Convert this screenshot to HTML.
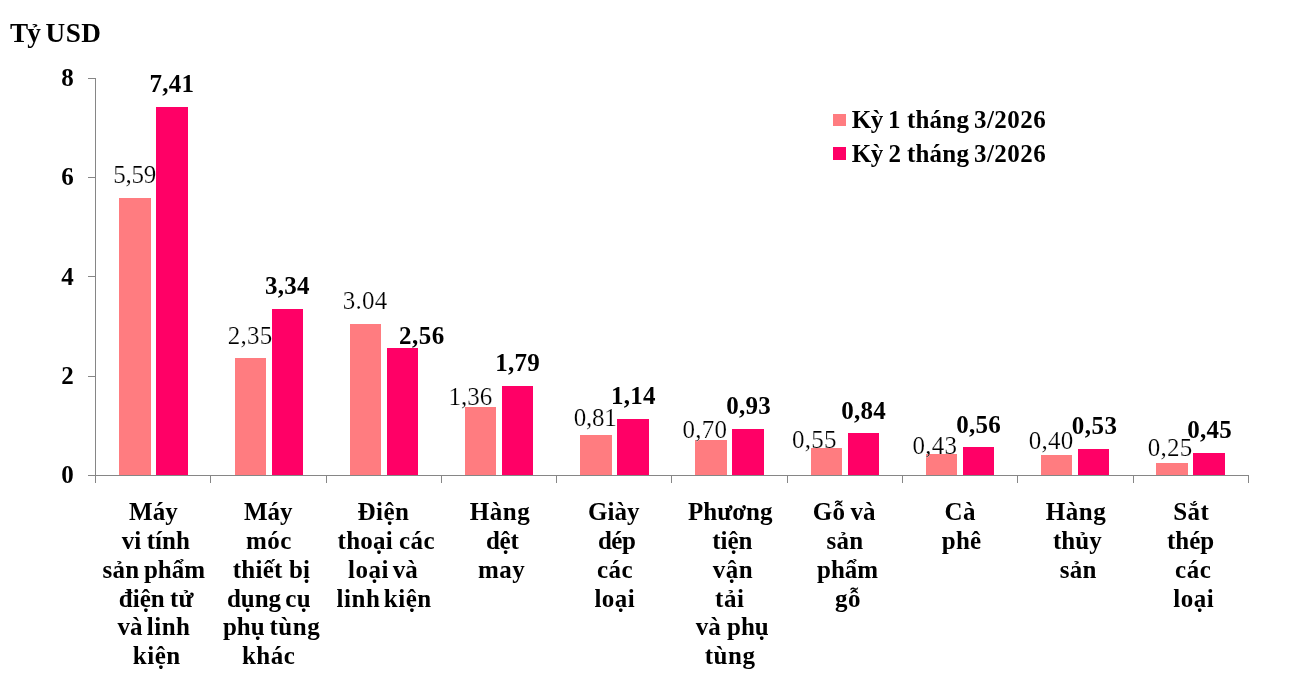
<!DOCTYPE html>
<html lang="vi">
<head>
<meta charset="utf-8">
<title>Tỷ USD</title>
<style>
html,body{margin:0;padding:0;background:#fff;}
body{width:1297px;height:694px;overflow:hidden;}
svg{display:block;}
text{font-family:"Liberation Serif","Times New Roman",serif;fill:#000;font-size:25px;}
.r{stroke:#fff;stroke-width:.2px;}
.b{font-weight:bold;}
.t{font-size:27.2px;}
</style>
</head>
<body>
<svg width="1297" height="694" viewBox="0 0 1297 694">
<rect width="1297" height="694" fill="#fff"/>
<g shape-rendering="crispEdges">
<rect x="119" y="198" width="32" height="277" fill="#FF7C80"/>
<rect x="156" y="107" width="32" height="368" fill="#FF0066"/>
<rect x="235" y="358" width="31" height="117" fill="#FF7C80"/>
<rect x="272" y="309" width="31" height="166" fill="#FF0066"/>
<rect x="350" y="324" width="31" height="151" fill="#FF7C80"/>
<rect x="387" y="348" width="31" height="127" fill="#FF0066"/>
<rect x="465" y="407" width="31" height="68" fill="#FF7C80"/>
<rect x="502" y="386" width="31" height="89" fill="#FF0066"/>
<rect x="580" y="435" width="32" height="40" fill="#FF7C80"/>
<rect x="617" y="419" width="32" height="56" fill="#FF0066"/>
<rect x="695" y="440" width="32" height="35" fill="#FF7C80"/>
<rect x="732" y="429" width="32" height="46" fill="#FF0066"/>
<rect x="811" y="448" width="31" height="27" fill="#FF7C80"/>
<rect x="848" y="433" width="31" height="42" fill="#FF0066"/>
<rect x="926" y="454" width="31" height="21" fill="#FF7C80"/>
<rect x="963" y="447" width="31" height="28" fill="#FF0066"/>
<rect x="1041" y="455" width="31" height="20" fill="#FF7C80"/>
<rect x="1078" y="449" width="31" height="26" fill="#FF0066"/>
<rect x="1156" y="463" width="32" height="12" fill="#FF7C80"/>
<rect x="1193" y="453" width="32" height="22" fill="#FF0066"/>
<rect x="833" y="114" width="13" height="12" fill="#FF7C80"/>
<rect x="833" y="147" width="13" height="13" fill="#FF0066"/>
</g>
<g stroke="#868686" stroke-width="1" fill="none" shape-rendering="crispEdges">
<path d="M95.5 78V483"/>
<path d="M88 475.5H1249"/>
<path d="M88 376.5H96"/>
<path d="M88 276.5H96"/>
<path d="M88 177.5H96"/>
<path d="M88 78.5H96"/>
<path d="M210.5 475V483"/>
<path d="M326.5 475V483"/>
<path d="M441.5 475V483"/>
<path d="M556.5 475V483"/>
<path d="M671.5 475V483"/>
<path d="M787.5 475V483"/>
<path d="M902.5 475V483"/>
<path d="M1017.5 475V483"/>
<path d="M1133.5 475V483"/>
<path d="M1248.5 475V483"/>
</g>
<text class="b" x="73.8" y="483" text-anchor="end">0</text>
<text class="b" x="73.8" y="384" text-anchor="end">2</text>
<text class="b" x="73.8" y="285" text-anchor="end">4</text>
<text class="b" x="73.8" y="185" text-anchor="end">6</text>
<text class="b" x="73.8" y="86" text-anchor="end">8</text>
<text class="b t" y="42"><tspan x="10.0" letter-spacing="-1">Tỷ</tspan> <tspan x="45.5" letter-spacing="0.5">USD</tspan></text>
<text class="b" y="128"><tspan x="851.8" letter-spacing="-0.5">Kỳ</tspan> <tspan x="887.9">1</tspan> <tspan x="906.9" letter-spacing="0.25">tháng</tspan> <tspan x="973.9" letter-spacing="0.5">3/2026</tspan></text>
<text class="b" y="162"><tspan x="851.8" letter-spacing="-0.5">Kỳ</tspan> <tspan x="888.4">2</tspan> <tspan x="906.9" letter-spacing="0.25">tháng</tspan> <tspan x="973.9" letter-spacing="0.5">3/2026</tspan></text>
<text class="r" x="113.2" y="183" letter-spacing="-0.25">5,59</text>
<text class="b" x="149.4" y="92" letter-spacing="0.25">7,41</text>
<text class="r" x="227.8" y="344" letter-spacing="0.25">2,35</text>
<text class="b" x="265.1" y="294" letter-spacing="0.25">3,34</text>
<text class="r" x="342.8" y="309" letter-spacing="0.25">3.04</text>
<text class="b" x="399.0" y="344" letter-spacing="0.5">2,56</text>
<text class="r" x="448.4" y="405">1,36</text>
<text class="b" x="495.3" y="371" letter-spacing="0.25">1,79</text>
<text class="r" x="573.8" y="426" letter-spacing="-0.25">0,81</text>
<text class="b" x="611.1" y="404" letter-spacing="0.25">1,14</text>
<text class="r" x="682.6" y="438" letter-spacing="0.25">0,70</text>
<text class="b" x="726.3" y="414" letter-spacing="0.25">0,93</text>
<text class="r" x="791.9" y="448" letter-spacing="0.25">0,55</text>
<text class="b" x="841.2" y="419" letter-spacing="0.25">0,84</text>
<text class="r" x="912.6" y="454" letter-spacing="0.25">0,43</text>
<text class="b" x="956.3" y="433" letter-spacing="0.25">0,56</text>
<text class="r" x="1028.8" y="449" letter-spacing="0.25">0,40</text>
<text class="b" x="1071.7" y="434" letter-spacing="0.5">0,53</text>
<text class="r" x="1147.8" y="456" letter-spacing="0.25">0,25</text>
<text class="b" x="1187.2" y="438" letter-spacing="0.25">0,45</text>
<text class="b" x="129.1" y="520">Máy</text>
<text class="b" y="549"><tspan x="121.8">vi</tspan> <tspan x="146.8">tính</tspan></text>
<text class="b" y="578"><tspan x="102.6" letter-spacing="0.25">sản</tspan> <tspan x="143.9">phẩm</tspan></text>
<text class="b" y="607"><tspan x="118.8">điện</tspan> <tspan x="169.9" letter-spacing="0.25">tử</tspan></text>
<text class="b" y="635"><tspan x="117.5">và</tspan> <tspan x="146.8" letter-spacing="0.5">linh</tspan></text>
<text class="b" x="132.8" y="664" letter-spacing="0.5">kiện</text>
<text class="b" x="243.9" y="520">Máy</text>
<text class="b" x="245.9" y="549" letter-spacing="0.5">móc</text>
<text class="b" y="578"><tspan x="232.8" letter-spacing="0.25">thiết</tspan> <tspan x="289.1">bị</tspan></text>
<text class="b" y="607"><tspan x="226.9">dụng</tspan> <tspan x="285.2" letter-spacing="0.5">cụ</tspan></text>
<text class="b" y="635"><tspan x="222.9">phụ</tspan> <tspan x="269.5" letter-spacing="0.5">tùng</tspan></text>
<text class="b" x="241.9" y="664" letter-spacing="0.5">khác</text>
<text class="b" x="357.4" y="520" letter-spacing="0.5">Điện</text>
<text class="b" y="549"><tspan x="337.6" letter-spacing="0.25">thoại</tspan> <tspan x="399.0" letter-spacing="0.5">các</tspan></text>
<text class="b" y="578"><tspan x="348.1" letter-spacing="0.5">loại</tspan> <tspan x="392.8">và</tspan></text>
<text class="b" y="607"><tspan x="336.6" letter-spacing="0.5">linh</tspan> <tspan x="383.8" letter-spacing="0.5">kiện</tspan></text>
<text class="b" x="469.8" y="520" letter-spacing="0.5">Hàng</text>
<text class="b" x="485.9" y="549" letter-spacing="-0.25">dệt</text>
<text class="b" x="477.9" y="578" letter-spacing="0.5">may</text>
<text class="b" x="588.0" y="520">Giày</text>
<text class="b" x="597.9" y="549" letter-spacing="-0.5">dép</text>
<text class="b" x="597.0" y="578" letter-spacing="0.5">các</text>
<text class="b" x="594.4" y="607" letter-spacing="0.5">loại</text>
<text class="b" x="688.0" y="520">Phương</text>
<text class="b" x="712.2" y="549">tiện</text>
<text class="b" x="712.8" y="578" letter-spacing="0.5">vận</text>
<text class="b" x="715.1" y="607" letter-spacing="0.5">tải</text>
<text class="b" y="635"><tspan x="695.7">và</tspan> <tspan x="727.0">phụ</tspan></text>
<text class="b" x="704.8" y="664" letter-spacing="0.5">tùng</text>
<text class="b" y="520"><tspan x="812.8" letter-spacing="0.25">Gỗ</tspan> <tspan x="850.5">và</tspan></text>
<text class="b" x="826.6" y="549" letter-spacing="0.25">sản</text>
<text class="b" x="817.0" y="578">phẩm</text>
<text class="b" x="834.9" y="607" letter-spacing="0.5">gỗ</text>
<text class="b" x="944.5" y="520" letter-spacing="0.5">Cà</text>
<text class="b" x="941.8" y="549" letter-spacing="0.25">phê</text>
<text class="b" x="1045.8" y="520" letter-spacing="0.5">Hàng</text>
<text class="b" x="1053.0" y="549">thủy</text>
<text class="b" x="1059.7" y="578" letter-spacing="0.25">sản</text>
<text class="b" x="1173.2" y="520" letter-spacing="0.5">Sắt</text>
<text class="b" x="1167.0" y="549">thép</text>
<text class="b" x="1175.1" y="578" letter-spacing="0.5">các</text>
<text class="b" x="1173.3" y="607" letter-spacing="0.5">loại</text>
</svg>
</body>
</html>
